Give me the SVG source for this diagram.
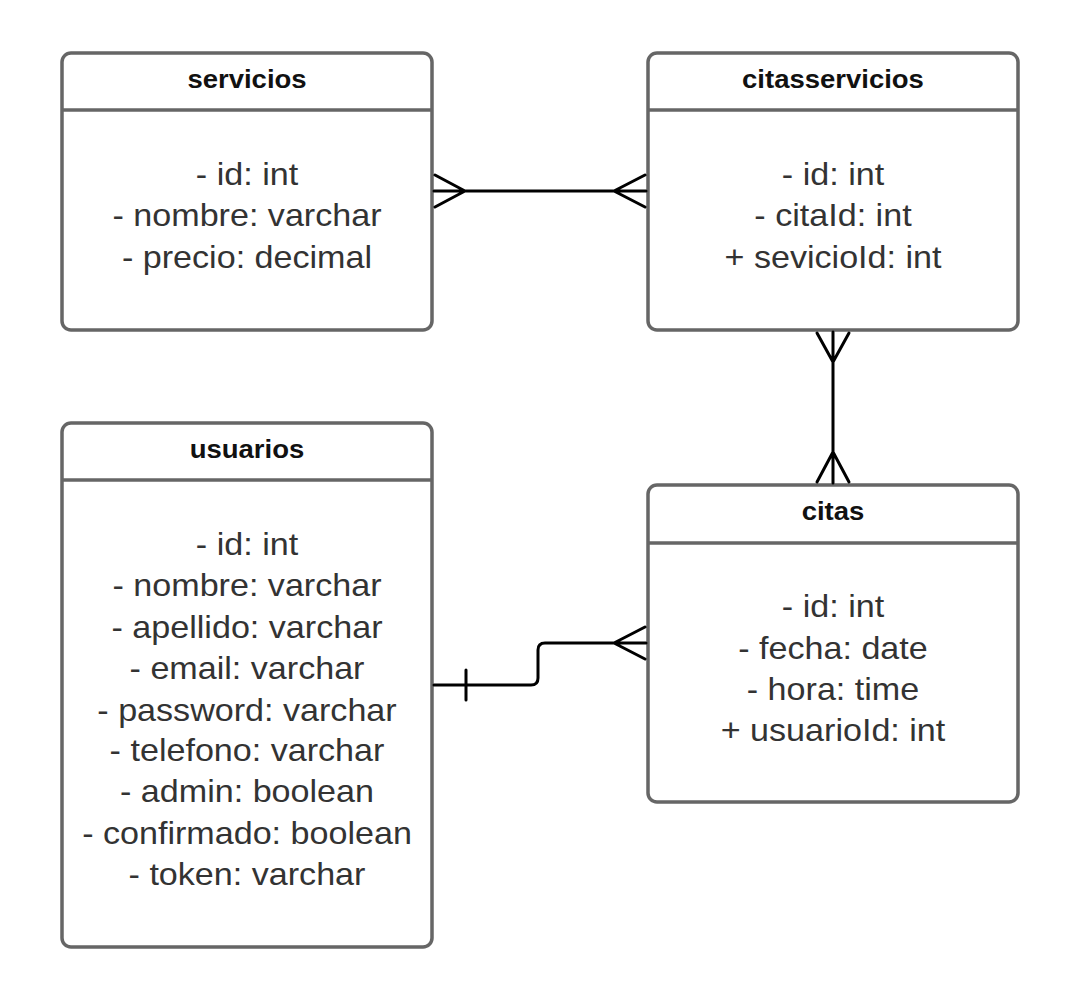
<svg xmlns="http://www.w3.org/2000/svg" width="1080" height="997" viewBox="0 0 1080 997">
<style>
.box{fill:#fff;stroke:#666;stroke-width:3.5}
.div{stroke:#666;stroke-width:3.5}
.t{font-family:"Liberation Sans",Arial,sans-serif;font-weight:bold;font-size:25px;fill:#111;text-anchor:middle}
.a{font-family:"Liberation Sans",Arial,sans-serif;font-size:31px;fill:#333;text-anchor:middle}
.c{fill:none;stroke:#000;stroke-width:3;stroke-linecap:round;stroke-linejoin:round}
</style>
<rect width="1080" height="997" fill="#fff"/>
<g id="servicios">
<rect class="box" x="62" y="53" width="370" height="277" rx="9"/>
<line class="div" x1="62" y1="110" x2="432" y2="110"/>
<g transform="translate(247 0) scale(1.1 1)">
<text class="t" x="0" y="88">servicios</text>
<text class="a" x="0" y="185">- id: int</text>
<text class="a" x="0" y="226.5">- nombre: varchar</text>
<text class="a" x="0" y="268">- precio: decimal</text>
</g>
</g>
<g id="citasservicios">
<rect class="box" x="648" y="53" width="370" height="277" rx="9"/>
<line class="div" x1="648" y1="110" x2="1018" y2="110"/>
<g transform="translate(833 0) scale(1.1 1)">
<text class="t" x="0" y="88">citasservicios</text>
<text class="a" x="0" y="185">- id: int</text>
<text class="a" x="0" y="226.5">- citaId: int</text>
<text class="a" x="0" y="268">+ sevicioId: int</text>
</g>
</g>
<g id="usuarios">
<rect class="box" x="62" y="423" width="370" height="524" rx="9"/>
<line class="div" x1="62" y1="480" x2="432" y2="480"/>
<g transform="translate(247 0) scale(1.1 1)">
<text class="t" x="0" y="458">usuarios</text>
<text class="a" x="0" y="555">- id: int</text>
<text class="a" x="0" y="596">- nombre: varchar</text>
<text class="a" x="0" y="638">- apellido: varchar</text>
<text class="a" x="0" y="679">- email: varchar</text>
<text class="a" x="0" y="721">- password: varchar</text>
<text class="a" x="0" y="761">- telefono: varchar</text>
<text class="a" x="0" y="802">- admin: boolean</text>
<text class="a" x="0" y="844">- confirmado: boolean</text>
<text class="a" x="0" y="885">- token: varchar</text>
</g>
</g>
<g id="citas">
<rect class="box" x="648" y="485" width="370" height="317" rx="9"/>
<line class="div" x1="648" y1="543" x2="1018" y2="543"/>
<g transform="translate(833 0) scale(1.1 1)">
<text class="t" x="0" y="520">citas</text>
<text class="a" x="0" y="617">- id: int</text>
<text class="a" x="0" y="659">- fecha: date</text>
<text class="a" x="0" y="700">- hora: time</text>
<text class="a" x="0" y="741">+ usuarioId: int</text>
</g>
</g>
<g id="connectors">
<path class="c" d="M434 191 H646 M435 175 L465 191 L435 207 M645 175 L614 191 L645 207"/>
<path class="c" d="M833 332 V483 M817 333 L833 362 L849 333 M817 482 L833 452 L849 482"/>
<path class="c" d="M434 685 H531 Q538 685 538 678 V650 Q538 643 545 643 H646 M466 670 V700 M645 627 L614 643 L645 659"/>
</g>
</svg>
